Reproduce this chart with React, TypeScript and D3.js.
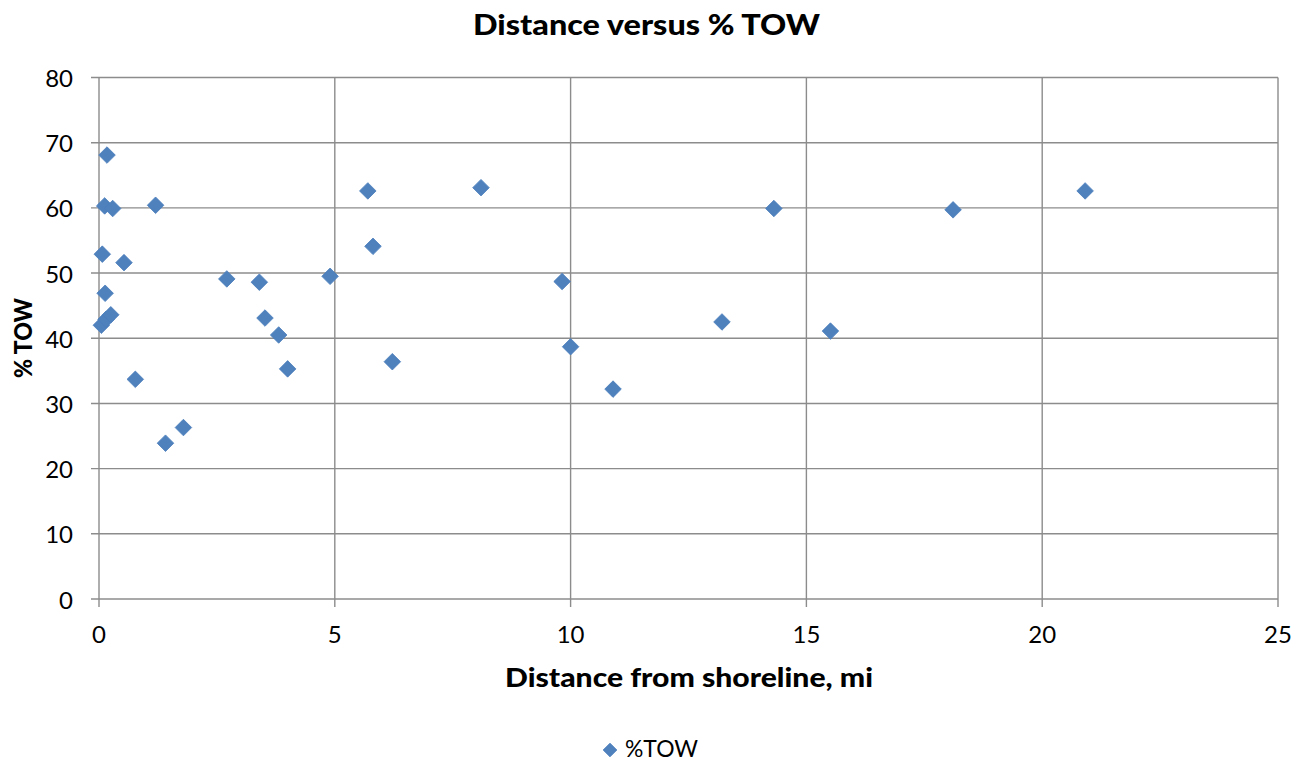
import React from "react";
import * as d3 from "d3";

const distance = [0.17, 0.12, 0.29, 1.2, 0.07, 0.53, 0.13, 0.05, 0.15, 0.25, 0.77, 1.41, 1.79, 2.71, 3.4, 3.52, 3.81, 4.0, 4.9, 5.7, 5.81, 6.22, 8.1, 9.82, 10.0, 10.9, 13.21, 14.31, 15.51, 18.11, 20.91];
const tow = [68.1, 60.3, 59.9, 60.4, 52.9, 51.6, 46.9, 42.0, 42.9, 43.6, 33.7, 23.9, 26.3, 49.1, 48.6, 43.1, 40.5, 35.3, 49.5, 62.6, 54.1, 36.4, 63.1, 48.7, 38.7, 32.2, 42.5, 59.9, 41.1, 59.7, 62.6];
const xTicks = [0, 5, 10, 15, 20, 25];
const yTicks = [0, 10, 20, 30, 40, 50, 60, 70, 80];
const seriesName = "%TOW";
const title = "Distance versus % TOW";
const xTitle = "Distance from shoreline, mi";
const yTitle = "% TOW";

const W = 1303;
const H = 762;
const FONT = "Lato, 'Open Sans', sans-serif";
const GRID = "#8c8c8c";
const FILL = "#4F81BD";
const STROKE = "#4A7EBB";

export default function App() {
  const x = d3.scaleLinear().domain([0, 25]).range([99, 1278]);
  const y = d3.scaleLinear().domain([0, 80]).range([599, 77.5]);
  const diamond = d3.symbol().type(d3.symbolDiamond2).size(175)();
  const pts = distance.map((d, i) => ({ x: d, y: tow[i] }));

  return (
    <svg width={W} height={H} style={{ position: "absolute", left: 0, top: 0, display: "block", background: "#fff" }} fontFamily={FONT}>
      <rect x={0} y={0} width={W} height={H} fill="#fff" />
      {yTicks.map((t) => (
        <g key={"y" + t}>
          <line x1={x(0) - 8} x2={x(25)} y1={y(t)} y2={y(t)} stroke={GRID} strokeWidth={1.4} />
          <text x={73} y={y(t)} textAnchor="end" dominantBaseline="central" fontSize={24} fill="#000">
            {t}
          </text>
        </g>
      ))}
      {xTicks.map((t) => (
        <g key={"x" + t}>
          <line x1={x(t)} x2={x(t)} y1={y(80)} y2={y(0) + 8} stroke={GRID} strokeWidth={1.4} />
          <text x={x(t)} y={643} textAnchor="middle" fontSize={24} fill="#000">
            {t}
          </text>
        </g>
      ))}
      {pts.map((p, i) => (
        <path key={i} d={diamond} transform={`translate(${x(p.x)},${y(p.y)})`} fill={FILL} stroke={STROKE} strokeWidth={0.8} />
      ))}
      <text x={646.5} y={35} textAnchor="middle" fontSize={29} fontWeight={900} fill="#000" textLength={347} lengthAdjust="spacingAndGlyphs">
        {title}
      </text>
      <text x={689} y={687} textAnchor="middle" fontSize={27} fontWeight={900} fill="#000" textLength={368} lengthAdjust="spacingAndGlyphs">
        {xTitle}
      </text>
      <text transform={`translate(32,338) rotate(-90)`} textAnchor="middle" fontSize={25} fontWeight={900} fill="#000" textLength={80} lengthAdjust="spacingAndGlyphs">
        {yTitle}
      </text>
      <path d={d3.symbol().type(d3.symbolDiamond2).size(120)()} transform="translate(610,750)" fill={FILL} stroke={STROKE} strokeWidth={0.8} />
      <text x={625} y={757} fontSize={23} fill="#000" textLength={73} lengthAdjust="spacingAndGlyphs">
        {seriesName}
      </text>
    </svg>
  );
}
